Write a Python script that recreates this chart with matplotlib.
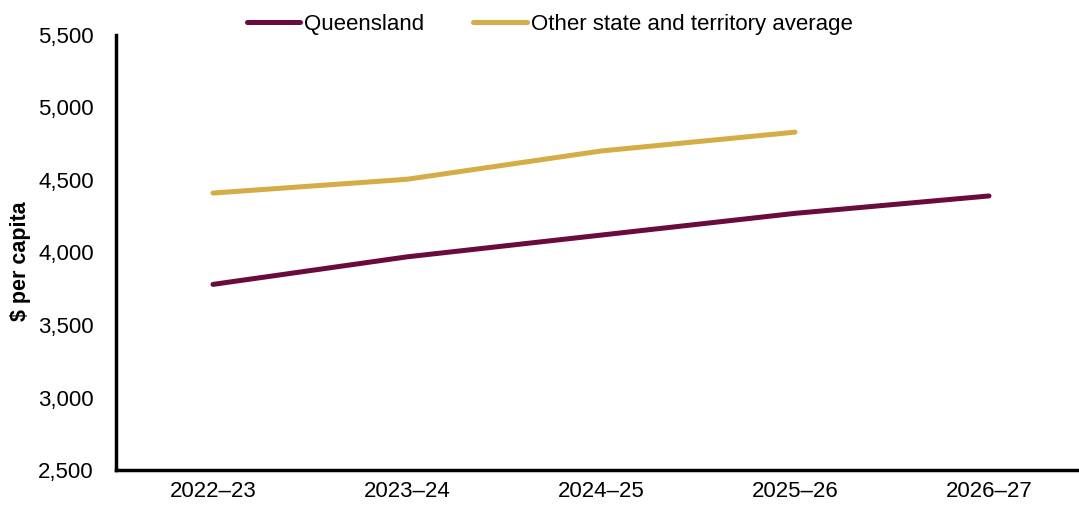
import numpy as np
import matplotlib.pyplot as plt

plt.rcParams['font.family'] = ['Liberation Sans', 'DejaVu Sans']

years = ['2022–23', '2023–24', '2024–25', '2025–26', '2026–27']
queensland = [3780, 3970, 4120, 4270, 4390]
other_avg = [4410, 4505, 4700, 4830]

maroon = '#690B3C'
gold = '#D5AD47'

fig = plt.figure(figsize=(10.79, 5.05), dpi=100)
ax = fig.add_axes([0.1075, 0.0693, 0.899, 0.8614])

x = np.arange(len(years))
ax.plot(x, queensland, color=maroon, lw=3.6, solid_capstyle='round',
        label='Queensland')
ax.plot(x[:len(other_avg)], other_avg, color=gold, lw=3.6,
        solid_capstyle='round', label='Other state and territory average')

ax.set_xlim(-0.5, len(years) - 0.5)
ax.set_ylim(2500, 5500)
ax.set_yticks(np.arange(2500, 5501, 500))
ax.set_yticklabels([f'{v:,}' for v in range(2500, 5501, 500)])
ax.set_xticks(x)
ax.set_xticklabels(years)
ax.tick_params(axis='both', length=0, labelsize=16)
ax.tick_params(axis='x', pad=8)
ax.tick_params(axis='y', pad=16)

for s in ['top', 'right']:
    ax.spines[s].set_visible(False)
for s in ['left', 'bottom']:
    ax.spines[s].set_linewidth(2.5)
    ax.spines[s].set_color('black')

ax.set_ylabel('$ per capita', fontsize=15.5, fontweight='bold')
ax.yaxis.set_label_coords(-0.088, 0.48)

fig.legend(loc='center left', bbox_to_anchor=(0.210, 0.952), ncol=2,
           frameon=False, fontsize=16, handlelength=2.4, handletextpad=0.2,
           columnspacing=2.2)

fig.savefig('out.png', dpi=100)
